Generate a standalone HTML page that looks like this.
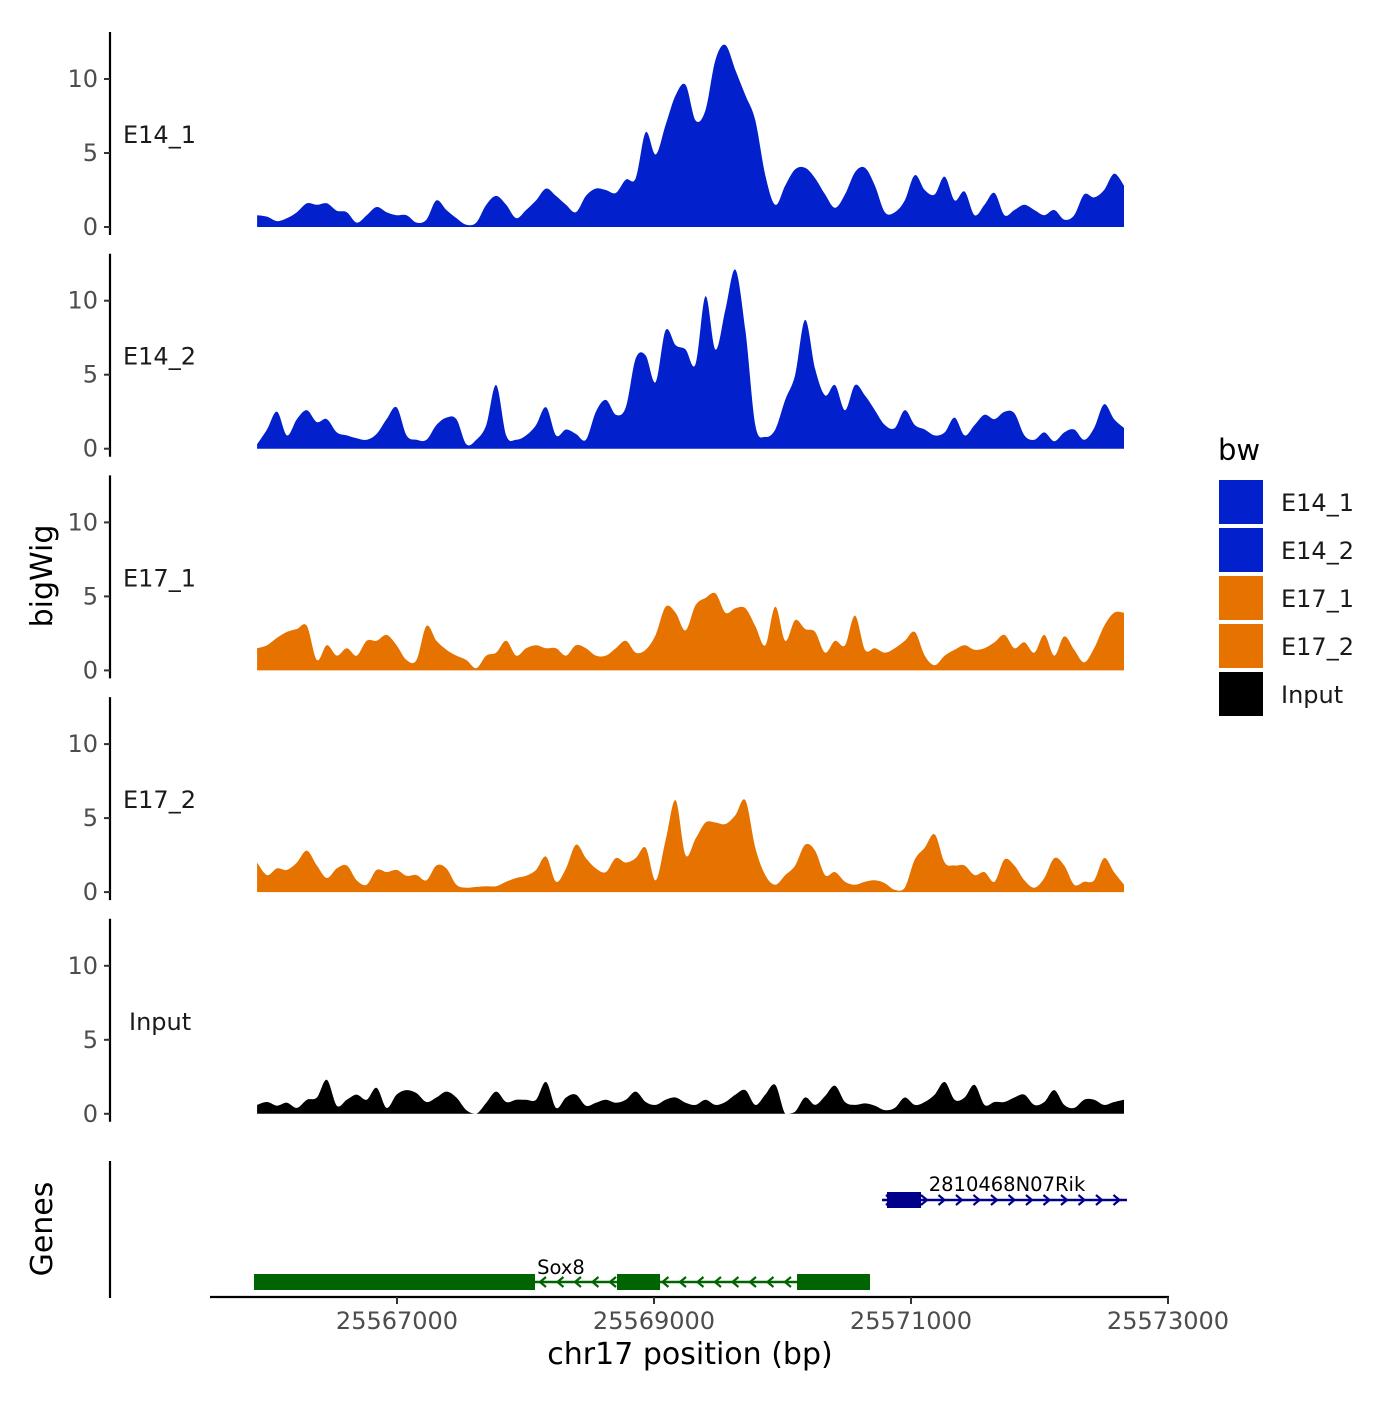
<!DOCTYPE html>
<html><head><meta charset="utf-8"><style>
html,body{margin:0;padding:0;background:#fff;}
svg text{font-family:"DejaVu Sans","Liberation Sans",sans-serif;}
</style></head><body>
<svg id="chart" width="1400" height="1400" viewBox="0 0 1400 1400" xmlns="http://www.w3.org/2000/svg">
<rect width="1400" height="1400" fill="#fff"/>
<g id="tracks"></g>
<g id="genes"></g>
<text x="52" y="576" font-size="30" text-anchor="middle" transform="rotate(-90 52 576)">bigWig</text>
<text x="52" y="1229" font-size="30" text-anchor="middle" transform="rotate(-90 52 1229)">Genes</text>
<text x="690" y="1364" font-size="30" text-anchor="middle">chr17 position (bp)</text>
<g id="legend">
<text x="1218" y="460" font-size="29">bw</text>
</g>
</svg>
<script>
const trackNames = ["E14_1","E14_2","E17_1","E17_2","Input"];
const trackColors = ["#0220CB","#0220CB","#E67300","#E67300","#000000"];
const binStart = 25565911;
const binStep = 77.55;
const e14_1 = [0.8,0.7,0.4,0.6,1.0,1.6,1.5,1.6,1.1,1.0,0.3,0.8,1.35,1.0,0.8,0.8,0.3,0.5,1.8,1.15,0.6,0.15,0.3,1.5,2.1,1.5,0.6,1.15,1.8,2.6,2.1,1.5,1.0,2.1,2.6,2.5,2.3,3.2,3.3,6.4,4.9,6.9,8.9,9.6,7.2,7.9,11.3,12.3,10.6,8.9,7.2,3.5,1.5,2.8,3.9,4.0,3.3,2.2,1.3,2.2,3.7,4.0,2.8,1.0,1.0,1.8,3.5,2.5,2.2,3.4,1.8,2.4,0.8,1.5,2.3,0.8,1.15,1.5,1.15,0.8,1.15,0.5,0.8,2.2,2.0,2.5,3.6,2.8];
const e14_2 = [0.3,1.3,2.5,0.9,2.0,2.6,1.8,2.0,1.1,0.9,0.7,0.6,1.0,2.0,2.8,0.9,0.6,0.6,1.6,2.1,2.0,0.3,0.6,1.6,4.3,0.9,0.6,0.9,1.6,2.8,0.9,1.3,1.0,0.6,2.5,3.3,2.3,2.8,6.1,6.3,4.5,8.0,7.0,6.7,5.7,10.3,6.7,9.4,12.1,8.0,1.6,0.8,1.3,3.3,5.0,8.7,5.4,3.6,4.3,2.6,4.3,3.6,2.6,1.6,1.4,2.6,1.6,1.3,0.9,1.1,2.1,0.9,1.6,2.3,2.0,2.5,2.4,0.9,0.6,1.1,0.5,1.1,1.3,0.6,1.4,3.0,2.0,1.4];
const e17_1 = [1.5,1.7,2.2,2.6,2.8,3.0,0.7,1.7,1.0,1.5,1.0,2.0,2.0,2.4,1.7,0.7,0.7,3.0,2.0,1.4,1.0,0.7,0.15,1.0,1.2,2.0,1.0,1.5,1.7,1.5,1.5,1.0,1.7,1.5,1.0,1.0,1.5,2.0,1.2,1.4,2.4,4.3,3.9,2.7,4.4,4.9,5.2,3.9,4.2,4.2,3.0,1.7,4.3,2.0,3.4,2.8,2.6,1.2,2.0,1.7,3.7,1.4,1.5,1.2,1.5,2.0,2.6,1.0,0.35,1.0,1.4,1.7,1.4,1.5,1.9,2.4,1.5,1.9,1.2,2.4,1.0,2.3,1.4,0.55,1.5,3.0,3.9,3.9];
const e17_2 = [2.0,1.15,1.6,1.5,2.0,2.8,1.8,0.95,1.6,1.8,0.8,0.5,1.5,1.35,1.5,1.1,1.15,0.8,1.8,1.6,0.5,0.3,0.35,0.4,0.4,0.7,0.95,1.1,1.5,2.4,0.7,1.6,3.2,2.3,1.6,1.35,2.3,2.0,2.3,3.0,0.8,3.5,6.2,2.5,3.6,4.7,4.7,4.6,5.2,6.2,3.0,1.15,0.5,1.15,1.8,3.2,2.8,1.15,1.35,0.7,0.5,0.7,0.8,0.6,0.15,0.3,2.2,3.0,3.9,2.0,1.8,1.8,1.15,1.35,0.7,2.2,1.8,0.8,0.3,0.95,2.3,1.8,0.5,0.7,0.8,2.3,1.35,0.5];
const input = [0.6,0.8,0.55,0.75,0.4,0.95,1.1,2.3,0.55,0.95,1.3,0.95,1.75,0.4,1.3,1.6,1.4,0.8,1.1,1.5,1.1,0.25,0,0.75,1.5,0.8,0.95,0.95,0.95,2.15,0.4,1.1,1.3,0.55,0.75,0.95,0.75,0.95,1.5,0.8,0.6,0.95,1.1,0.75,0.6,0.95,0.6,0.8,1.3,1.6,0.6,1.3,1.95,0,0.15,1.1,0.6,1.2,1.9,0.8,0.6,0.7,0.55,0.25,0.4,1.1,0.6,0.8,1.3,2.15,0.95,1.1,1.95,0.6,0.8,0.8,1.1,1.3,0.6,0.8,1.6,0.6,0.4,0.95,0.95,0.6,0.8,0.95];
const trackValues = [e14_1,e14_2,e17_1,e17_2,input];
const yTicks = [0,5,10];
const xTicks = [25567000,25569000,25571000,25573000];
const sox8Exons = [[25565887,25568074],[25568712,25569047],[25570113,25570681]];
const sox8Span = [25565887,25570681];
const rikExons = [[25570813,25571078]];
const rikSpan = [25570774,25572681];

const NS="http://www.w3.org/2000/svg";
function mk(tag,attrs,parent){const e=document.createElementNS(NS,tag);for(const k in attrs)e.setAttribute(k,attrs[k]);parent.appendChild(e);return e;}
function xScale(bp){return 397+(bp-25567000)*(257/2000);}
function yScale(v,k){return 227+k*221.7-v*14.8;}

const tg=document.getElementById('tracks');
trackNames.forEach((name,k)=>{
  const g=mk('g',{},tg);
  
  
  const vals=trackValues[k];
  const pts=vals.map((v,i)=>[xScale(binStart+i*binStep),yScale(v,k)]);
  const base=yScale(0,k);
  let d='M'+pts[0][0].toFixed(1)+','+base.toFixed(1)+' L'+pts[0][0].toFixed(1)+','+pts[0][1].toFixed(1);
  for(let i=0;i<pts.length-1;i++){
    const p0=pts[Math.max(0,i-1)],p1=pts[i],p2=pts[i+1],p3=pts[Math.min(pts.length-1,i+2)];
    const c1=[p1[0]+(p2[0]-p0[0])/6,Math.min(base,p1[1]+(p2[1]-p0[1])/6)];
    const c2=[p2[0]-(p3[0]-p1[0])/6,Math.min(base,p2[1]-(p3[1]-p1[1])/6)];
    d+=` C${c1[0].toFixed(1)},${c1[1].toFixed(1)} ${c2[0].toFixed(1)},${c2[1].toFixed(1)} ${p2[0].toFixed(1)},${p2[1].toFixed(1)}`;
  }
  d+=' L'+pts[pts.length-1][0].toFixed(1)+','+base.toFixed(1)+'Z';
  const p=mk('path',{d:d,fill:trackColors[k]},g);
  
  
  const top=32+k*221.7, bot=235+k*221.7;
  const ax=mk('line',{x1:110,x2:110,y1:top,y2:bot,stroke:'#000','stroke-width':2.2},g);
  
  
  yTicks.forEach(t=>{
    const y=yScale(t,k);
    mk('line',{x1:104,x2:110,y1:y,y2:y,stroke:'#333','stroke-width':2},g);
    const tx=mk('text',{x:98,y:y+8,'font-size':24,fill:'#4d4d4d','text-anchor':'end'},g);
    tx.textContent=t;
    
    
  });
  const lb=mk('text',{x:name==='Input'?129:123,y:143+k*221.7,'font-size':24,fill:'#1a1a1a'},g);
  lb.textContent=name;
  
  
});

const gg=document.getElementById('genes');
const ga=mk('line',{x1:110,x2:110,y1:1161,y2:1298,stroke:'#000','stroke-width':2.2},gg);


const xa=mk('line',{x1:210,x2:1169,y1:1297,y2:1297,stroke:'#000','stroke-width':2.2},gg);


xTicks.forEach(t=>{
  const x=xScale(t);
  mk('line',{x1:x,x2:x,y1:1297,y2:1304,stroke:'#333','stroke-width':2},gg);
  const tx=mk('text',{x:x,y:1329,'font-size':24,fill:'#4d4d4d','text-anchor':'middle'},gg);
  tx.textContent=t;
  
  
});
function gene(name,span,exons,y,color,dir,labelX,labelY){
  const g=mk('g',{},gg);
  
  
  const x1=xScale(span[0]),x2=xScale(span[1]);
  mk('line',{x1:x1,x2:x2,y1:y,y2:y,stroke:color,'stroke-width':2.5},g);
  for(let x=x1+8;x<x2-4;x+=17.5){
    const d=dir>0?`M${x-4},${y-5} L${x+2},${y} L${x-4},${y+5}`:`M${x+4},${y-5} L${x-2},${y} L${x+4},${y+5}`;
    mk('path',{d:d,stroke:color,'stroke-width':2.2,fill:'none'},g);
  }
  exons.forEach(e=>{
    const r=mk('rect',{x:xScale(e[0]),y:y-8,width:xScale(e[1])-xScale(e[0]),height:16,fill:color},g);
    
    
  });
  const t=mk('text',{x:labelX,y:labelY,'font-size':19.5,fill:'#000','text-anchor':'middle'},g);
  t.textContent=name;
  
  
}
gene('Sox8',sox8Span,sox8Exons,1282,'#006400',-1,561,1274);
gene('2810468N07Rik',rikSpan,rikExons,1200,'#00008B',1,1007,1191);

const lg=document.getElementById('legend');
const keyTops=[480,528,576,624,672];
trackNames.forEach((n,i)=>{
  const r=mk('rect',{x:1219,y:keyTops[i],width:44,height:44,fill:trackColors[i]},lg);
  
  
  const t=mk('text',{x:1281,y:keyTops[i]+31,'font-size':24,fill:'#1a1a1a'},lg);
  t.textContent=n;
  
  
});
</script>
</body></html>
